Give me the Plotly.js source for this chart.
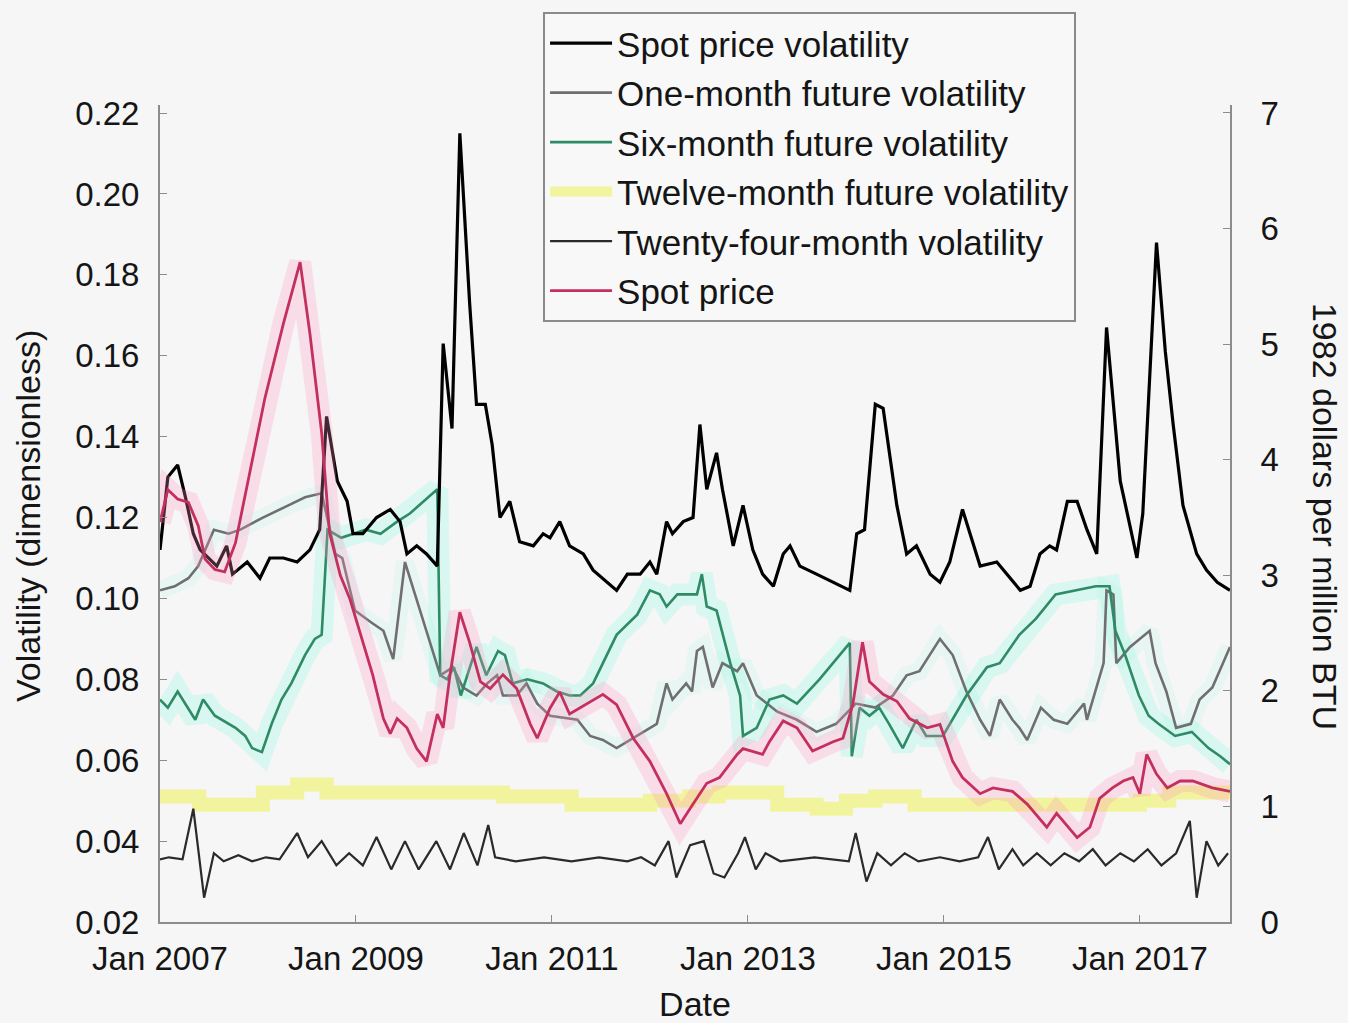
<!DOCTYPE html>
<html><head><meta charset="utf-8">
<script src="https://cdn.plot.ly/plotly-3.0.1.min.js"></script>
<style>html,body{margin:0;padding:0;background:#f6f6f6;}#chart{width:1348px;height:1023px;}</style>
</head><body><div id="chart"></div>
<script>
// ---- data: [decimal year, value] ----
const spotVolatility = [
[2007.00,0.112],[2007.08,0.130],[2007.18,0.133],[2007.26,0.125],[2007.34,0.116],[2007.41,0.112],[2007.58,0.108],[2007.68,0.113],[2007.74,0.106],[2007.89,0.109],
[2008.02,0.105],[2008.12,0.110],[2008.26,0.110],[2008.40,0.109],[2008.53,0.112],[2008.63,0.117],[2008.70,0.145],[2008.81,0.129],[2008.91,0.124],[2008.97,0.116],
[2009.07,0.116],[2009.21,0.120],[2009.35,0.122],[2009.45,0.119],[2009.52,0.111],[2009.62,0.113],[2009.72,0.111],[2009.83,0.108],[2009.89,0.163],[2009.98,0.142],
[2010.06,0.215],[2010.16,0.173],[2010.23,0.148],[2010.32,0.148],[2010.39,0.138],[2010.47,0.120],[2010.57,0.124],[2010.67,0.114],[2010.81,0.113],[2010.91,0.116],
[2010.98,0.115],[2011.08,0.119],[2011.18,0.113],[2011.32,0.111],[2011.42,0.107],[2011.56,0.104],[2011.66,0.102],[2011.77,0.106],[2011.90,0.106],[2012.00,0.109],
[2012.07,0.106],[2012.17,0.119],[2012.23,0.116],[2012.34,0.119],[2012.44,0.120],[2012.51,0.143],[2012.58,0.127],[2012.68,0.136],[2012.74,0.127],[2012.85,0.113],
[2012.95,0.123],[2013.05,0.112],[2013.15,0.106],[2013.26,0.103],[2013.36,0.111],[2013.43,0.113],[2013.53,0.108],[2013.70,0.106],[2013.87,0.104],[2014.04,0.102],
[2014.11,0.116],[2014.19,0.117],[2014.30,0.148],[2014.38,0.147],[2014.52,0.123],[2014.62,0.111],[2014.72,0.113],[2014.86,0.106],[2014.96,0.104],[2015.06,0.109],
[2015.19,0.122],[2015.37,0.108],[2015.54,0.109],[2015.64,0.106],[2015.78,0.102],[2015.88,0.103],[2015.98,0.111],[2016.08,0.113],[2016.15,0.112],[2016.26,0.124],
[2016.36,0.124],[2016.46,0.117],[2016.56,0.111],[2016.66,0.167],[2016.80,0.129],[2016.97,0.110],[2017.03,0.121],[2017.17,0.188],[2017.26,0.161],[2017.34,0.143],
[2017.44,0.123],[2017.58,0.111],[2017.68,0.107],[2017.79,0.104],[2017.92,0.102]];

const oneMonthVol = [
[2007.00,0.102],[2007.15,0.103],[2007.29,0.105],[2007.39,0.108],[2007.55,0.117],[2007.70,0.116],[2007.82,0.117],[2008.05,0.120],[2008.31,0.123],[2008.48,0.125],
[2008.65,0.126],[2008.79,0.111],[2008.86,0.110],[2008.99,0.097],[2009.16,0.094],[2009.28,0.092],[2009.38,0.085],[2009.50,0.109],[2009.86,0.081],[2009.99,0.083],
[2010.09,0.078],[2010.23,0.076],[2010.34,0.079],[2010.44,0.081],[2010.50,0.076],[2010.64,0.076],[2010.74,0.079],[2010.85,0.074],[2010.98,0.071],[2011.26,0.070],
[2011.39,0.066],[2011.52,0.065],[2011.66,0.063],[2011.87,0.066],[2012.07,0.069],[2012.17,0.079],[2012.23,0.075],[2012.37,0.079],[2012.43,0.077],[2012.48,0.087],
[2012.54,0.088],[2012.58,0.084],[2012.64,0.078],[2012.74,0.084],[2012.89,0.082],[2012.95,0.084],[2013.09,0.076],[2013.30,0.072],[2013.50,0.070],[2013.70,0.067],
[2013.90,0.069],[2014.10,0.074],[2014.30,0.073],[2014.48,0.076],[2014.62,0.081],[2014.75,0.082],[2014.96,0.090],[2015.09,0.086],[2015.23,0.077],[2015.37,0.070],
[2015.47,0.066],[2015.57,0.075],[2015.70,0.070],[2015.77,0.068],[2015.85,0.065],[2015.99,0.073],[2016.12,0.070],[2016.26,0.069],[2016.43,0.074],[2016.46,0.070],
[2016.56,0.078],[2016.63,0.084],[2016.66,0.102],[2016.73,0.101],[2016.76,0.084],[2016.90,0.088],[2017.10,0.092],[2017.16,0.084],[2017.27,0.077],[2017.37,0.068],
[2017.52,0.069],[2017.61,0.075],[2017.74,0.078],[2017.92,0.088]];

const sixMonthVol = [
[2007.00,0.075],[2007.08,0.073],[2007.18,0.077],[2007.36,0.070],[2007.44,0.075],[2007.56,0.071],[2007.77,0.068],[2007.87,0.066],[2007.94,0.063],[2008.04,0.062],
[2008.14,0.069],[2008.24,0.075],[2008.34,0.079],[2008.40,0.082],[2008.48,0.086],[2008.58,0.090],[2008.65,0.091],[2008.68,0.104],[2008.71,0.117],[2008.85,0.115],
[2008.98,0.116],[2009.10,0.117],[2009.25,0.116],[2009.42,0.119],[2009.55,0.121],[2009.83,0.127],[2009.86,0.081],[2009.93,0.080],[2010.00,0.083],[2010.07,0.076],
[2010.23,0.088],[2010.33,0.081],[2010.45,0.087],[2010.52,0.086],[2010.60,0.079],[2010.75,0.080],[2010.91,0.079],[2011.05,0.077],[2011.18,0.076],[2011.29,0.076],
[2011.42,0.079],[2011.66,0.091],[2011.87,0.096],[2012.00,0.102],[2012.10,0.101],[2012.17,0.098],[2012.28,0.101],[2012.48,0.101],[2012.53,0.106],[2012.58,0.098],
[2012.68,0.097],[2012.82,0.084],[2012.92,0.076],[2012.95,0.066],[2013.09,0.068],[2013.22,0.075],[2013.36,0.076],[2013.50,0.074],[2013.73,0.080],[2013.87,0.084],
[2014.04,0.089],[2014.06,0.061],[2014.14,0.073],[2014.24,0.071],[2014.34,0.073],[2014.44,0.069],[2014.58,0.063],[2014.72,0.070],[2014.82,0.066],[2014.99,0.066],
[2015.23,0.076],[2015.44,0.083],[2015.57,0.084],[2015.77,0.091],[2015.94,0.095],[2016.14,0.101],[2016.35,0.102],[2016.55,0.103],[2016.69,0.103],[2016.75,0.092],
[2016.85,0.086],[2016.99,0.076],[2017.09,0.071],[2017.19,0.069],[2017.36,0.066],[2017.53,0.067],[2017.70,0.063],[2017.82,0.061],[2017.92,0.059]];

const twelveMonthVol = [
[2007.00,0.051],[2007.40,0.049],[2007.70,0.049],[2008.05,0.052],[2008.40,0.054],[2008.70,0.052],[2009.00,0.052],[2009.50,0.052],[2010.00,0.052],[2010.50,0.051],
[2010.90,0.051],[2011.20,0.049],[2011.60,0.049],[2012.00,0.050],[2012.40,0.051],[2012.70,0.052],[2013.00,0.052],[2013.30,0.049],[2013.70,0.048],[2014.00,0.050],
[2014.30,0.051],[2014.70,0.049],[2015.00,0.049],[2015.50,0.049],[2016.00,0.049],[2016.50,0.049],[2017.00,0.050],[2017.30,0.052],[2017.60,0.052],[2017.92,0.052]];

const twentyFourMonthVol = [
[2007.00,0.0355],[2007.09,0.036],[2007.23,0.0355],[2007.34,0.048],[2007.45,0.026],[2007.55,0.037],[2007.65,0.035],[2007.80,0.0365],[2007.94,0.035],[2008.08,0.036],
[2008.22,0.0355],[2008.40,0.042],[2008.51,0.036],[2008.65,0.040],[2008.80,0.034],[2008.93,0.037],[2009.07,0.034],[2009.21,0.041],[2009.36,0.033],[2009.50,0.040],
[2009.64,0.033],[2009.82,0.040],[2009.96,0.033],[2010.10,0.042],[2010.24,0.034],[2010.35,0.044],[2010.42,0.036],[2010.63,0.035],[2010.92,0.036],[2011.20,0.035],
[2011.48,0.036],[2011.77,0.035],[2011.91,0.036],[2012.05,0.034],[2012.19,0.040],[2012.27,0.031],[2012.41,0.039],[2012.55,0.040],[2012.65,0.032],[2012.76,0.031],
[2012.90,0.037],[2012.97,0.041],[2013.08,0.033],[2013.18,0.037],[2013.33,0.035],[2013.68,0.036],[2014.03,0.035],[2014.10,0.042],[2014.21,0.030],[2014.32,0.037],
[2014.46,0.034],[2014.60,0.037],[2014.74,0.035],[2014.96,0.036],[2015.16,0.035],[2015.35,0.036],[2015.45,0.041],[2015.56,0.033],[2015.70,0.038],[2015.81,0.034],
[2015.95,0.037],[2016.09,0.034],[2016.23,0.037],[2016.38,0.035],[2016.52,0.038],[2016.65,0.034],[2016.80,0.037],[2016.94,0.035],[2017.08,0.038],[2017.22,0.034],
[2017.37,0.037],[2017.51,0.045],[2017.58,0.026],[2017.68,0.040],[2017.80,0.034],[2017.90,0.037]];

const spotPrice = [
[2007.00,3.46],[2007.08,3.74],[2007.18,3.66],[2007.29,3.63],[2007.39,3.43],[2007.46,3.14],[2007.56,3.05],[2007.66,3.03],[2007.77,3.28],[2007.92,3.89],
[2008.07,4.53],[2008.26,5.18],[2008.43,5.71],[2008.53,5.09],[2008.65,4.23],[2008.73,3.37],[2008.84,3.00],[2008.94,2.79],[2009.07,2.42],[2009.17,2.14],
[2009.28,1.76],[2009.35,1.63],[2009.42,1.76],[2009.52,1.68],[2009.62,1.50],[2009.72,1.39],[2009.83,1.80],[2009.89,1.68],[2009.96,2.14],[2010.06,2.68],
[2010.16,2.42],[2010.27,2.08],[2010.37,2.02],[2010.50,2.14],[2010.64,2.02],[2010.78,1.71],[2010.85,1.59],[2010.98,1.85],[2011.08,1.99],[2011.18,1.80],
[2011.52,1.97],[2011.66,1.88],[2011.83,1.59],[2012.00,1.39],[2012.17,1.11],[2012.31,0.85],[2012.44,1.02],[2012.58,1.20],[2012.71,1.25],[2012.89,1.45],
[2012.95,1.50],[2013.15,1.45],[2013.22,1.56],[2013.36,1.74],[2013.50,1.68],[2013.66,1.48],[2013.87,1.56],[2013.97,1.59],[2014.07,1.88],[2014.17,2.42],
[2014.24,2.08],[2014.38,1.97],[2014.52,1.91],[2014.65,1.76],[2014.83,1.68],[2014.96,1.71],[2015.09,1.39],[2015.19,1.25],[2015.37,1.11],[2015.50,1.16],
[2015.70,1.13],[2015.85,1.02],[2016.05,0.82],[2016.15,0.94],[2016.36,0.73],[2016.49,0.82],[2016.59,1.07],[2016.72,1.16],[2016.83,1.22],[2016.93,1.25],
[2017.00,1.11],[2017.07,1.45],[2017.17,1.28],[2017.28,1.16],[2017.41,1.22],[2017.54,1.22],[2017.74,1.16],[2017.92,1.13]];

const xTickVals = [2007, 2009, 2011, 2013, 2015, 2017];
const xTickText = ['Jan 2007', 'Jan 2009', 'Jan 2011', 'Jan 2013', 'Jan 2015', 'Jan 2017'];
const leftTickVals = [0.02, 0.04, 0.06, 0.08, 0.10, 0.12, 0.14, 0.16, 0.18, 0.20, 0.22];
const leftTickText = ['0.02','0.04','0.06','0.08','0.10','0.12','0.14','0.16','0.18','0.20','0.22'];
const rightTickVals = [0, 1, 2, 3, 4, 5, 6, 7];

const xs = d => d.map(p => p[0]);
const ys = d => d.map(p => p[1]);
const FONT = 'Liberation Sans, Arial, sans-serif';
const TXT = '#151515';

function series(name, data, color, width, rank, extra) {
  return Object.assign({
    type: 'scatter', mode: 'lines', name: name, x: xs(data), y: ys(data),
    line: {color: color, width: width}, legendrank: rank, legendgroup: 'g' + rank
  }, extra || {});
}
function halo(data, color, width, yaxis) {
  return {type: 'scatter', mode: 'lines', x: xs(data), y: ys(data), yaxis: yaxis || 'y',
    line: {color: color, width: width}, showlegend: false, hoverinfo: 'skip'};
}

const traces = [
  halo(sixMonthVol, 'rgba(110,250,220,0.22)', 22),
  halo(oneMonthVol, 'rgba(110,250,220,0.10)', 18),
  halo(spotPrice, 'rgba(255,150,195,0.26)', 22, 'y2'),
  series('Twelve-month future volatility', twelveMonthVol, 'rgba(240,242,120,0.7)', 14, 4, {line: {color: 'rgba(240,242,120,0.7)', width: 14, shape: 'hv'}}),
  series('Twenty-four-month volatility', twentyFourMonthVol, '#2a2a2a', 2.2, 5),
  series('Spot price', spotPrice, '#c4305e', 2.8, 6, {yaxis: 'y2'}),
  series('One-month future volatility', oneMonthVol, '#6f6f6f', 2.6, 2),
  series('Six-month future volatility', sixMonthVol, '#2f8a66', 2.6, 3),
  series('Spot price volatility', spotVolatility, '#000000', 3.2, 1)
];

const layout = {
  width: 1348, height: 1023,
  paper_bgcolor: '#f6f6f6', plot_bgcolor: '#f6f6f6',
  margin: {l: 160, r: 118, t: 100, b: 101},
  font: {family: FONT, size: 34, color: TXT},
  showlegend: true,
  legend: {
    x: 0.358, y: 1.114, xanchor: 'left', yanchor: 'top',
    bgcolor: '#f8f8f8', bordercolor: '#8a8a8a', borderwidth: 2,
    font: {family: FONT, size: 35, color: TXT},
    traceorder: 'grouped', tracegroupgap: 1, itemwidth: 62
  },
  xaxis: {
    range: [2007, 2017.92], tickmode: 'array', tickvals: xTickVals, ticktext: xTickText,
    showgrid: false, zeroline: false, showline: true, linecolor: '#8c8c8c', linewidth: 2,
    ticks: 'inside', ticklen: 7, tickcolor: '#8c8c8c', ticklabelstandoff: 6,
    tickfont: {family: FONT, size: 33, color: TXT},
    title: {text: 'Date', font: {family: FONT, size: 34, color: TXT}, standoff: 20}
  },
  yaxis: {
    range: [0.02, 0.222], tickmode: 'array', tickvals: leftTickVals, ticktext: leftTickText,
    showgrid: false, zeroline: false, showline: true, linecolor: '#8c8c8c', linewidth: 2,
    ticks: 'inside', ticklen: 7, tickcolor: '#8c8c8c', ticklabelstandoff: 12,
    tickfont: {family: FONT, size: 33, color: TXT}
  },
  yaxis2: {
    overlaying: 'y', side: 'right', anchor: 'x', range: [0, 7.069],
    tickmode: 'array', tickvals: rightTickVals,
    showgrid: false, zeroline: false, showline: true, linecolor: '#8c8c8c', linewidth: 2,
    ticks: 'inside', ticklen: 7, tickcolor: '#8c8c8c', ticklabelstandoff: 22,
    tickfont: {family: FONT, size: 33, color: TXT}
  },
  annotations: [
    {text: 'Volatility (dimensionless)', xref: 'paper', yref: 'paper', x: 0, y: 0.497,
     xanchor: 'center', yanchor: 'middle',
     xshift: -132, textangle: -90, showarrow: false, font: {family: FONT, size: 34, color: TXT}},
    {text: '1982 dollars per million BTU', xref: 'paper', yref: 'paper', x: 1, y: 0.497,
     xanchor: 'center', yanchor: 'middle',
     xshift: 95, textangle: 90, showarrow: false, font: {family: FONT, size: 34, color: TXT}}
  ]
};

Plotly.newPlot('chart', traces, layout, {displayModeBar: false, staticPlot: true});
</script>
</body></html>
